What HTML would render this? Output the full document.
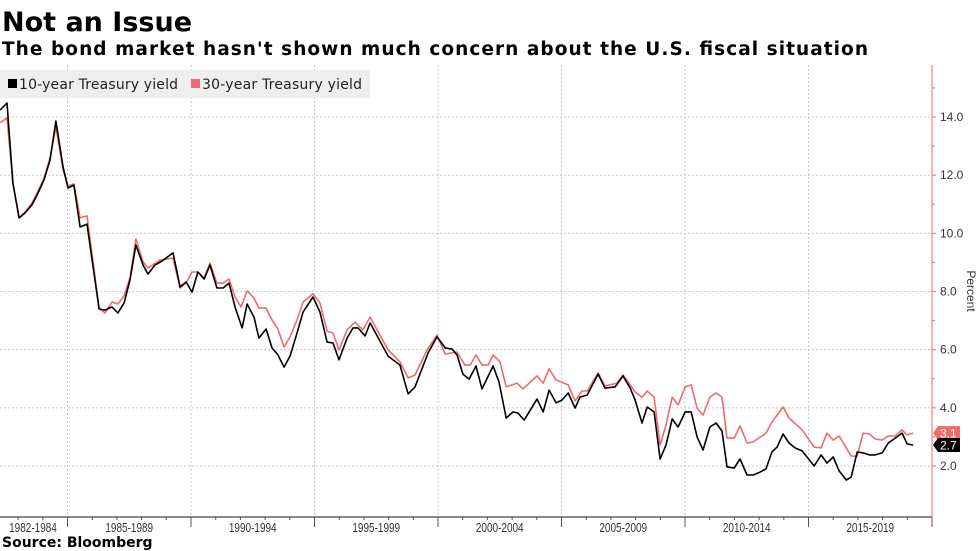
<!DOCTYPE html>
<html><head><meta charset="utf-8"><style>
body{margin:0;background:#fff;width:980px;height:551px;overflow:hidden;font-family:"Liberation Sans","DejaVu Sans",sans-serif}
svg{position:absolute;left:0;top:0}
</style></head><body>
<svg id="chart" width="980" height="551">
<text x="2" y="31" font-size="27" font-weight="bold" font-family="DejaVu Sans, sans-serif">Not an Issue</text>
<text x="2" y="55" font-size="18.5" font-weight="bold" font-family="DejaVu Sans, sans-serif" textLength="866">The bond market hasn't shown much concern about the U.S. fiscal situation</text>
<g id="grid"></g>
<rect x="0" y="70" width="370" height="28" fill="#eeeeee"/>
<g><rect x="8" y="79" width="9" height="9" fill="#000"/><text x="19" y="89" font-size="14" fill="#222" font-family="DejaVu Sans, sans-serif" textLength="159">10-year Treasury yield</text></g>
<g><rect x="191" y="79" width="9" height="9" fill="#f26b6b"/><text x="202" y="89" font-size="14" fill="#222" font-family="DejaVu Sans, sans-serif" textLength="160">30-year Treasury yield</text></g>
<g id="series"></g>
<g id="axes"></g>
<text x="2" y="547" font-size="14" font-weight="bold" font-family="DejaVu Sans, sans-serif">Source: Bloomberg</text>
</svg>
<script>
const yearsA=[1982.27,1982.55,1982.79,1983.04,1983.28,1983.56,1983.77,1984.05,1984.29,1984.53,1984.82,1985.02,1985.26,1985.51,1985.79,1986.28,1986.52,1986.80,1987.04,1987.29,1987.53,1987.77,1988.06,1988.26,1988.54,1988.83,1989.27,1989.56,1989.80,1990.04,1990.28,1990.53,1990.77,1991.05,1991.30,1991.54,1991.78,1992.07,1992.27,1992.55,1992.75,1993.04,1993.28,1993.52,1993.77,1994.01,1994.29,1994.54,1994.94,1995.22,1995.51,1995.75,1995.99,1996.32,1996.56,1996.76,1997.05,1997.25,1997.98,1998.46,1998.79,1999.07,1999.60,1999.96,2000.29,2000.57,2000.77,2001.01,2001.26,2001.54,2001.78,2002.23,2002.47,2002.76,2003.04,2003.24,2003.49,2004.01,2004.26,2004.50,2004.78,2005.02,2005.27,2005.55,2005.75,2006.04,2006.48,2006.76,2007.17,2007.49,2007.78,2007.98,2008.26,2008.47,2008.75,2008.99,2009.23,2009.48,2009.72,2010.01,2010.25,2010.49,2010.73,2011.01,2011.26,2011.50,2011.70,2011.99,2012.23,2012.51,2012.76,2013.04,2013.28,2013.52,2013.73,2013.97,2014.21,2014.46,2014.74,2014.94,2015.23,2015.51,2015.75,2016.00,2016.24,2016.53,2016.73,2016.97,2017.21,2017.46,2017.70,2017.98,2018.23,2018.51,2018.79,2018.99,2019.24];
const yield10=[14.24,14.48,11.73,10.53,10.70,10.98,11.32,11.84,12.52,13.86,12.28,11.56,11.66,10.22,10.32,7.40,7.36,7.47,7.26,7.61,8.40,9.60,8.91,8.60,8.91,9.05,9.33,8.16,8.33,7.98,8.67,8.43,8.91,8.12,8.12,8.29,7.47,6.75,7.57,7.12,6.40,6.71,6.06,5.82,5.40,5.78,6.57,7.30,7.81,7.30,6.26,6.23,5.65,6.40,6.75,6.75,6.47,6.92,5.78,5.47,4.48,4.72,5.89,6.44,6.06,6.02,5.82,5.16,4.99,5.44,4.65,5.44,4.89,3.65,3.86,3.82,3.58,4.30,3.86,4.61,4.17,4.27,4.51,3.99,4.37,4.44,5.16,4.68,4.72,5.10,4.68,4.27,3.48,4.03,3.86,2.24,2.72,3.62,3.34,3.86,3.86,3.00,2.55,3.34,3.48,3.20,1.97,1.93,2.24,1.69,1.69,1.79,1.90,2.48,2.65,3.10,2.79,2.62,2.52,2.31,2.00,2.38,2.10,2.31,1.83,1.52,1.62,2.48,2.45,2.38,2.38,2.45,2.79,2.96,3.13,2.76,2.72];
const yearsB=[1982.27,1982.55,1982.79,1983.04,1983.28,1983.56,1983.77,1984.05,1984.29,1984.53,1984.82,1985.02,1985.26,1985.51,1985.79,1986.28,1986.52,1986.80,1987.04,1987.29,1987.53,1987.77,1988.06,1988.26,1988.75,1989.27,1989.56,1989.80,1990.04,1990.28,1990.53,1990.77,1991.05,1991.30,1991.54,1991.78,1992.03,1992.27,1992.55,1992.75,1993.04,1993.28,1993.52,1993.77,1994.01,1994.29,1994.54,1994.94,1995.22,1995.51,1995.75,1995.99,1996.32,1996.64,1996.96,1997.25,1997.98,1998.46,1998.79,1999.07,1999.56,1999.96,2000.29,2000.77,2001.09,2001.30,2001.54,2001.78,2002.03,2002.23,2002.51,2002.76,2003.20,2003.44,2004.01,2004.26,2004.50,2004.78,2005.27,2005.55,2005.83,2006.04,2006.48,2006.76,2007.25,2007.49,2007.78,2007.98,2008.26,2008.47,2008.75,2008.99,2009.23,2009.48,2009.72,2010.01,2010.25,2010.49,2010.73,2011.01,2011.26,2011.50,2011.70,2011.99,2012.23,2012.51,2012.76,2013.28,2013.52,2013.97,2014.21,2014.74,2015.23,2015.51,2015.75,2016.00,2016.24,2016.73,2016.97,2017.21,2017.46,2017.70,2017.98,2018.23,2018.51,2018.79,2018.99,2019.24];
const yield30=[13.80,13.97,11.73,10.53,10.73,11.04,11.39,11.90,12.59,13.66,12.18,11.63,11.70,10.53,10.60,7.43,7.26,7.64,7.57,7.85,8.47,9.81,9.02,8.81,9.08,9.15,8.12,8.29,8.67,8.67,8.47,8.98,8.29,8.29,8.43,7.81,7.47,8.02,7.78,7.43,7.43,7.02,6.71,6.09,6.44,7.02,7.64,7.92,7.61,6.64,6.57,5.99,6.68,6.95,6.68,7.12,5.99,5.58,5.03,5.13,5.99,6.50,5.85,5.92,5.47,5.47,5.82,5.47,5.47,5.82,5.58,4.72,4.85,4.65,5.10,4.85,5.34,4.96,4.79,4.24,4.58,4.58,5.20,4.75,4.85,5.13,4.79,4.54,4.37,4.58,4.37,2.72,3.41,4.37,4.10,4.72,4.79,3.99,3.75,4.37,4.51,4.37,2.96,2.96,3.38,2.79,2.83,3.13,3.51,4.03,3.65,3.24,2.65,2.62,3.13,2.89,3.03,2.34,2.34,3.13,3.10,2.93,2.89,3.03,3.03,3.24,3.07,3.13];
const yTicks=[2,4,6,8,10,12,14];
const xLabels=["1982-1984","1985-1989","1990-1994","1995-1999","2000-2004","2005-2009","2010-2014","2015-2019"];
const xLabelStart=[1982.2,1985,1990,1995,2000,2005,2010,2015];

const NS="http://www.w3.org/2000/svg";
const X0=67.5,PX=24.7,AXR=932,AXB=517,TOP=65;
const xs=yr=>X0+(yr-1985)*PX;
const ys=v=>466-(v-2)*29.08;
function mk(tag,attrs,parent){const e=document.createElementNS(NS,tag);for(const k in attrs)e.setAttribute(k,attrs[k]);parent.appendChild(e);return e;}
const grid=document.getElementById('grid'),series=document.getElementById('series'),axes=document.getElementById('axes');
yTicks.forEach(v=>{
  const l=mk('line',{x1:0,x2:AXR,y1:ys(v),y2:ys(v),stroke:'#c8c8c8','stroke-dasharray':'2,2','stroke-width':1},grid);
  
  
  const t=mk('line',{x1:AXR,x2:AXR+4,y1:ys(v),y2:ys(v),stroke:'#f26b6b'},axes);
  
  
  const tx=mk('text',{x:AXR+8,y:ys(v)+4,'font-size':12,fill:'#333'},axes);
  tx.textContent=v.toFixed(1);
  
  
});
for(let v=3;v<=15;v+=2){const t=mk('line',{x1:AXR,x2:AXR+3,y1:ys(v),y2:ys(v),stroke:'#f26b6b'},axes);
  
  }
for(let yr=1985;yr<=2015;yr+=5){
  const l=mk('line',{x1:xs(yr),x2:xs(yr),y1:TOP,y2:AXB,stroke:'#c8c8c8','stroke-dasharray':'2,2'},grid);
  
  
}
for(let yr=1983;yr<=2020;yr++){
  const major=(yr%5===0);
  const t=mk('line',{x1:xs(yr),x2:xs(yr),y1:AXB,y2:AXB+(major?10:3),stroke:'#555'},axes);
  
  
}
xLabels.forEach((s,i)=>{
  const a=xLabelStart[i],b=(i<xLabels.length-1)?xLabelStart[i+1]:2020;
  let cx=(xs(a)+xs(b))/2; if(i===0) cx=33;
  const t=mk('text',{x:cx,y:AXB+15,'font-size':12.5,'text-anchor':'middle',fill:'#333',transform:`translate(${cx},0) scale(0.8,1) translate(${-cx},0)`},axes);
  t.textContent=s;
  
  
});
const xa=mk('line',{x1:0,x2:AXR,y1:AXB,y2:AXB,stroke:'#444','stroke-width':1.2},axes);


const ya=mk('line',{x1:AXR,x2:AXR,y1:TOP,y2:AXB,stroke:'#f26b6b','stroke-width':1},axes);


const yt=mk('text',{x:967,y:291,'font-size':12,fill:'#333','text-anchor':'middle',transform:'rotate(90 967 291)'},axes);
yt.textContent='Percent';


function line(yrs,vals,color,name){
  const d=yrs.map((y,i)=>(i?'L':'M')+xs(y).toFixed(1)+','+ys(vals[i]).toFixed(1)).join('');
  const p=mk('path',{d:d,fill:'none',stroke:color,'stroke-width':1.6,'stroke-linejoin':'round'},series);
  
  
}
line(yearsB,yield30,'#f26b6b','line-30-year-yield');
line(yearsA,yield10,'#000000','line-10-year-yield');
function tag(v,color,name){
  const y=ys(v);
  const g=mk('g',{},axes);
  
  
  mk('path',{d:`M${AXR+1},${y} L${AXR+6},${y-7} L${AXR+28},${y-7} L${AXR+28},${y+7} L${AXR+6},${y+7} Z`,fill:color},g);
  const t=mk('text',{x:AXR+8,y:y+4.5,'font-size':12,fill:'#fff'},g);
  t.textContent=v.toFixed(1);
}
tag(yield30[yield30.length-1],'#f26b6b','last-value-30y');
tag(yield10[yield10.length-1],'#000000','last-value-10y');
</script>
</body></html>
